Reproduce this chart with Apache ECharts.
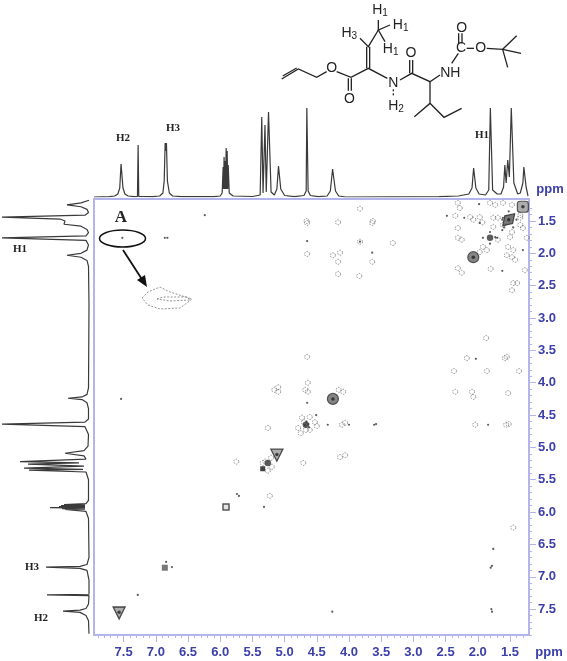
<!DOCTYPE html>
<html>
<head>
<meta charset="utf-8">
<title>COSY spectrum</title>
<script src="https://cdn.jsdelivr.net/npm/echarts@6/dist/echarts.min.js"></script>
<style>
  html, body { margin: 0; padding: 0; background: #fff; }
  #chart { width: 567px; height: 661px; }
</style>
</head>
<body>
<div id="chart"></div>
<script>
// 1D projection on top, [ppm, intensity]
var topSpectrum = [
  [7.96,0],[7.72,0.3],[7.64,1],[7.59,3],[7.56,9],[7.54,33],[7.53,33],[7.51,9],[7.48,3],[7.43,1],[7.34,0.3],
  [7.285,0.5],[7.275,52],[7.265,0.5],[7.05,0.3],[6.94,1],[6.89,4],[6.87,16],[6.855,54],[6.845,46],[6.835,54],[6.82,16],[6.79,4],[6.74,1],[6.6,0.3],
  [6.1,0.3],[6.0,1],[5.97,4],[5.955,30],[5.948,8],[5.94,40],[5.932,8],[5.924,36],[5.916,8],[5.908,49],[5.9,8],[5.892,46],[5.884,8],[5.876,32],[5.86,4],[5.8,1],
  [5.5,0.5],[5.38,2],[5.355,80],[5.335,4],[5.305,72],[5.285,5],[5.25,85],[5.235,85],[5.21,5],[5.16,2],[5.12,8],[5.095,31],[5.085,31],[5.06,8],[5.0,1.5],[4.85,0.3],
  [4.7,1.5],[4.665,6],[4.655,89],[4.645,89],[4.635,6],[4.6,1.5],[4.48,0.3],[4.34,1],[4.29,6],[4.255,28],[4.245,28],[4.21,6],[4.16,1],[4.05,0],
  [2.6,0.3],[2.3,1],[2.14,3],[2.09,9],[2.065,29],[2.055,29],[2.03,9],[1.98,3],[1.88,2],[1.83,7],[1.805,89],[1.795,89],[1.77,7],[1.7,3],[1.64,3],
  [1.6,10],[1.58,32],[1.56,14],[1.535,37],[1.51,20],[1.48,89],[1.46,89],[1.44,14],[1.38,3],[1.34,4],[1.3,14],[1.285,30],[1.275,30],[1.25,10],[1.22,1]
];

// 1D projection on the left, [intensity, ppm]
var leftSpectrum = [
  [0,1.18],[2,1.2],[8,1.22],[22,1.25],[8,1.28],[2,1.32],[0.5,1.37],
  [4,1.41],[87,1.44],[87,1.445],[29,1.47],[24,1.5],[25,1.55],[8,1.58],[2,1.63],[0.5,1.68],
  [3,1.73],[87,1.76],[87,1.765],[3,1.8],[0.5,1.87],[2,1.95],[8,2.0],[22,2.03],[8,2.06],[2,2.11],[0.5,2.2],[0,2.8],
  [0.5,4.08],[2,4.18],[7,4.22],[21,4.24],[7,4.26],[2,4.31],[0.5,4.4],[0.5,4.56],[4,4.61],[87,4.64],[87,4.65],[4,4.68],[0.5,4.8],
  [1,4.98],[5,5.05],[24,5.09],[5,5.13],[3,5.18],[69,5.22],[10,5.24],[61,5.26],[5,5.29],[65,5.32],[6,5.34],[60,5.35],[3,5.38],[0.5,5.5],
  [0.5,5.82],[3,5.87],[25,5.885],[4,5.893],[28,5.9],[4,5.908],[30,5.915],[4,5.923],[39,5.93],[4,5.938],[27,5.945],[4,5.953],[24,5.96],[3,5.99],[0.5,6.1],[0,6.7],
  [2,6.81],[9,6.84],[43,6.85],[43,6.855],[9,6.87],[2,6.9],[0,7.05],[0,7.27],[42,7.28],[0,7.29],[0.5,7.42],[3,7.49],[9,7.515],[26,7.53],[26,7.535],[9,7.55],[3,7.6],[0.5,7.68],[0,7.88]
];

// off diagonal contours, [f2, f1]
var weakContours = [
  [3.83,1.31],[4.65,1.53],[4.66,1.5],[4.17,1.52],[3.64,1.53],[3.63,1.5],[3.83,1.82],[3.32,1.84],[4.65,2.01],[4.25,2.03],[4.14,1.99],[4.17,2.13],[3.64,2.13],[4.17,2.32],[3.84,2.35],
  [1.87,3.31],[2.17,3.62],[1.58,3.62],[1.55,3.6],[2.37,3.82],[1.86,3.82],[1.36,3.82],[2.35,4.14],[2.09,4.14],[2.07,4.22],[1.53,4.16],[2.04,4.65],[1.56,4.65],[1.52,4.64],
  [2.31,1.22],[2.28,1.3],[1.81,1.22],[1.73,1.25],[1.61,1.22],[1.47,1.25],[2.35,1.42],[2.12,1.44],[2.07,1.48],[1.97,1.44],[1.93,1.52],[1.76,1.45],[1.69,1.45],
  [2.31,1.61],[2.31,1.76],[2.25,1.79],[1.5,1.75],[1.47,1.67],[1.34,1.45],[1.3,1.61],[1.24,1.76],[1.34,1.41],[1.53,1.9],[1.45,1.95],[1.47,2.06],[1.42,2.1],[1.55,2.03],
  [1.92,1.9],[1.97,1.98],[1.86,1.95],[1.69,1.79],[1.61,1.56],[1.34,1.56],[1.76,1.59],[2.31,2.23],[2.25,2.3],[1.8,2.24],[1.27,2.26],[1.45,2.46],[1.47,2.57],[1.39,2.46],
  [4.65,3.6],[5.16,4.11],[5.1,4.07],[5.1,4.14],[4.68,4.11],[4.64,4.0],[4.64,4.14],[4.16,4.11],[4.09,4.14],[5.26,4.7],[5.75,5.22],[4.71,5.24],[4.14,5.15],[4.06,5.12],[4.11,4.65],[4.06,4.62],
  [5.23,5.75],[4.73,4.54],[4.79,4.7],[4.75,4.78],[4.61,4.53],[4.53,4.61],[4.5,4.67],[4.7,4.61],[4.61,4.73],[4.67,4.73],
  [5.3,5.22],[5.2,5.3],[5.26,5.36],[5.21,5.16],[5.34,5.24],[1.45,6.24]
];

// tiny dark dots
var contourSpecks = [
  [4.65,1.81],[3.83,1.82],[3.64,1.99],[2.03,3.63],[1.84,4.65],[1.76,6.57],[1.8,6.86],[1.78,6.83],[1.78,7.54],[1.79,7.5],
  [1.98,1.24],[2.48,1.42],[2.21,1.45],[1.61,1.45],[1.97,1.53],[1.81,1.67],[1.73,1.75],[1.62,1.64],[1.3,1.95],[1.62,2.27],
  [1.92,1.76],[1.7,1.76],[1.81,1.85],[1.62,1.48],[1.4,1.48],[1.52,1.35],[1.59,1.6],[1.45,1.6],
  [4.65,4.31],[4.0,4.65],[3.61,4.65],[3.58,4.64],[4.33,4.65],[5.74,5.72],[5.71,5.75],[5.32,5.92],[4.51,4.5],[4.68,4.66],[4.63,4.64],[4.66,4.6],[4.62,4.69],
  [7.28,7.28],[6.84,6.77],[6.75,6.85],[6.24,1.41],[6.86,1.76],[6.82,1.76],[7.52,1.76],[7.54,4.25],[4.26,7.54]
];

// diagonal peaks, grouped by how they look in the plot
var triangularPeaks = [[7.57,7.56],[5.12,5.12]];
var roundPeaks = [[4.25,4.25],[2.07,2.06]];
var cornerPeak = [[1.3,1.28]];
var elongatedPeak = [[1.52,1.48]];
var darkPeaks = [[5.26,5.24],[4.67,4.65],[1.81,1.76]];
var greySquarePeaks = [[6.86,6.86]];
var openSquarePeaks = [[5.91,5.92]];
var solidSquarePeaks = [[5.34,5.33]];
var peakCores = [[7.57,7.55],[5.12,5.11],[4.25,4.25],[2.07,2.06],[1.3,1.28],[1.52,1.48]];

var ppmTicks = [1.5,2,2.5,3,3.5,4,4.5,5,5.5,6,6.5,7,7.5];
var minorTicks = [1.3,1.4,1.6,1.7,1.8,1.9,2.1,2.2,2.3,2.4,2.6,2.7,2.8,2.9,3.1,3.2,3.3,3.4,3.6,3.7,3.8,3.9,4.1,4.2,4.3,4.4,4.6,4.7,4.8,4.9,
  5.1,5.2,5.3,5.4,5.6,5.7,5.8,5.9,6.1,6.2,6.3,6.4,6.6,6.7,6.8,6.9,7.1,7.2,7.3,7.4,7.6,7.7,7.8,7.9];
var f2Range = [1.205,7.96];
var f1Range = [1.16,7.9];

var axisBlue = '#3c40a8';
var frameBlue = '#b3b4ea';

function fmtPpm(v) { return v.toFixed(1); }

function mainAxis(extent, pos, margin) {
  return {
    type: 'value', gridIndex: 0, position: pos, inverse: true,
    min: extent[0], max: extent[1], splitLine: { show: false },
    axisLine: { show: true, onZero: false, lineStyle: { color: frameBlue, width: 1.5 } },
    axisTick: { show: true, length: 7, lineStyle: { color: frameBlue, width: 1 }, customValues: ppmTicks },
    axisLabel: { show: true, margin: margin, color: axisBlue, fontFamily: 'Liberation Sans', fontWeight: 'bold', fontSize: 13,
      formatter: fmtPpm, customValues: ppmTicks }
  };
}

// second axis on the same grid just for the 0.1 ppm ticks
function minorAxis(extent, pos) {
  return {
    type: 'value', gridIndex: 0, position: pos, inverse: true,
    min: extent[0], max: extent[1], splitLine: { show: false },
    axisLine: { show: false, onZero: false },
    axisTick: { show: true, length: 3, lineStyle: { color: frameBlue, width: 1 }, customValues: minorTicks },
    axisLabel: { show: false }
  };
}

function hiddenAxis(extra) {
  return Object.assign({ type: 'value', show: false, splitLine: { show: false } }, extra);
}

function specSeries(data, xi, yi) {
  return { type: 'line', xAxisIndex: xi, yAxisIndex: yi, data: data, showSymbol: false, symbol: 'none', silent: true,
    lineStyle: { color: '#3a3a3a', width: 1.2 }, z: 3 };
}

function contourSeries(data, opt) {
  return Object.assign({ type: 'scatter', xAxisIndex: 0, yAxisIndex: 0, data: data, silent: true }, opt);
}

// molecule was measured on a 3x zoom, so everything goes through these
function mx(x) { return 270 + x / 3; }
function my(y) { return y / 3; }

function bond(pts, dash) {
  return { type: 'polyline', silent: true,
    shape: { points: pts.map(function (p) { return [mx(p[0]), my(p[1])]; }) },
    style: { stroke: '#222', lineWidth: 1.3, fill: null, lineDash: dash || null } };
}

function atom(txt, x, y) {
  return { type: 'text', silent: true, x: mx(x), y: my(y),
    style: { text: txt, fill: '#222', font: '14px "Liberation Sans"', align: 'center', verticalAlign: 'middle',
      rich: { s: { fontSize: 10, fontFamily: 'Liberation Sans', fill: '#222', padding: [6, 0, 0, 0] } } } };
}

function note(txt, x, y, size) {
  return { type: 'text', silent: true, x: x, y: y,
    style: { text: txt, fill: '#222', font: 'bold ' + (size || 11) + 'px "Liberation Serif"', align: 'center', verticalAlign: 'middle' } };
}

function ppmText(x, y) {
  return { type: 'text', silent: true, x: x, y: y,
    style: { text: 'ppm', fill: axisBlue, font: 'bold 13px "Liberation Sans"', align: 'center', verticalAlign: 'middle' } };
}

var molecule = [
  bond([[35,237],[85,207],[140,232],[170,215]]), bond([[38,228],[80,204]]),
  bond([[200,215],[243,232],[295,205],[352,235]]),
  bond([[235,235],[235,272]]), bond([[244,235],[244,272]]),
  bond([[290,205],[290,140]]), bond([[299,205],[299,140]]),
  bond([[270,115],[295,140],[325,90]]),
  bond([[325,60],[325,90],[360,75]]), bond([[325,90],[345,125]]),
  bond([[370,268],[370,287]], [2, 2]),
  bond([[390,240],[425,220],[480,245],[510,225]]),
  bond([[419,220],[419,180]]), bond([[428,220],[428,180]]),
  bond([[545,190],[565,160]]), bond([[566,130],[566,100]]), bond([[576,130],[576,100]]),
  bond([[590,145],[612,145]]),
  bond([[650,145],[698,148],[740,107]]), bond([[698,148],[753,160]]), bond([[698,148],[713,202]]),
  bond([[480,245],[480,310],[433,350]]), bond([[480,310],[522,352],[575,325]]),
  atom('O', 185, 205), atom('O', 238, 297), atom('N', 370, 250), atom('H{s|2}', 378, 318),
  atom('O', 423, 158), atom('NH', 541, 218), atom('C', 573, 145), atom('O', 575, 85), atom('O', 632, 145),
  atom('H{s|3}', 238, 100), atom('H{s|1}', 330, 30), atom('H{s|1}', 392, 75), atom('H{s|1}', 362, 147)
];

var annotations = [
  note('H2', 123, 138), note('H3', 173, 128), note('H1', 482, 135),
  note('H1', 20, 249), note('H3', 32, 567), note('H2', 41, 618),
  note('A', 121, 218, 17),
  { type: 'ellipse', silent: true, shape: { cx: 122.5, cy: 238.5, rx: 23, ry: 8.5 }, style: { stroke: '#111', lineWidth: 1.5, fill: null } },
  { type: 'line', silent: true, shape: { x1: 123, y1: 250, x2: 145, y2: 284 }, style: { stroke: '#111', lineWidth: 1.8 } },
  { type: 'polygon', silent: true, shape: { points: [[147,287],[137,280],[145,275]] }, style: { fill: '#111' } },
  { type: 'polygon', silent: true, shape: { points: [[142,298],[148,292],[160,287],[170,292],[192,299],[187,303],[180,308],[160,309],[148,305]] },
    style: { stroke: '#777', lineWidth: 0.8, lineDash: [2, 1.5], fill: null } },
  { type: 'polygon', silent: true, shape: { points: [[157,299],[163,297],[187,297],[190,300],[170,301]] },
    style: { stroke: '#777', lineWidth: 0.8, lineDash: [2, 1.5], fill: null } },
  ppmText(550, 189), ppmText(549, 652)
];

var chart = echarts.init(document.getElementById('chart'), null, { renderer: 'canvas' });

chart.setOption({
  animation: false,
  backgroundColor: '#fff',
  grid: [
    { left: 94, top: 199, width: 435, height: 436, show: true, borderColor: frameBlue, borderWidth: 2, backgroundColor: 'transparent' },
    { left: 94, top: 100, width: 435, height: 97 },
    { left: 0, top: 199, width: 89, height: 436 }
  ],
  xAxis: [
    mainAxis(f2Range, 'bottom', 11),
    hiddenAxis({ gridIndex: 1, inverse: true, min: f2Range[0], max: f2Range[1] }),
    hiddenAxis({ gridIndex: 2, inverse: true, min: 0, max: 89 }),
    minorAxis(f2Range, 'bottom')
  ],
  yAxis: [
    mainAxis(f1Range, 'right', 9),
    hiddenAxis({ gridIndex: 1, min: 0, max: 97 }),
    hiddenAxis({ gridIndex: 2, inverse: true, min: f1Range[0], max: f1Range[1] }),
    minorAxis(f1Range, 'right')
  ],
  series: [
    specSeries(topSpectrum, 1, 1),
    specSeries(leftSpectrum, 2, 2),
    contourSeries(weakContours, { symbol: 'circle', symbolSize: 5,
      itemStyle: { color: 'transparent', borderColor: '#555', borderWidth: 0.8, borderType: [1.5, 1.2] } }),
    contourSeries(contourSpecks, { symbol: 'circle', symbolSize: 2.2, itemStyle: { color: '#333' } }),
    contourSeries(triangularPeaks, { symbol: 'triangle', symbolRotate: 180, symbolSize: 12,
      itemStyle: { color: '#999', borderColor: '#222', borderWidth: 1.3 } }),
    contourSeries(roundPeaks, { symbol: 'circle', symbolSize: 11,
      itemStyle: { color: '#666', borderColor: '#333', borderWidth: 1.2 } }),
    contourSeries(cornerPeak, { symbol: 'roundRect', symbolSize: 11,
      itemStyle: { color: '#999', borderColor: '#333', borderWidth: 1.2 } }),
    contourSeries(elongatedPeak, { symbol: 'diamond', symbolRotate: -45, symbolSize: [11, 17],
      itemStyle: { color: '#555', borderColor: '#222', borderWidth: 1.2 } }),
    contourSeries(darkPeaks, { symbol: 'circle', symbolSize: 6.5, itemStyle: { color: '#333' } }),
    contourSeries(greySquarePeaks, { symbol: 'rect', symbolSize: 6, itemStyle: { color: '#555' } }),
    contourSeries(openSquarePeaks, { symbol: 'rect', symbolSize: 6,
      itemStyle: { color: '#ddd', borderColor: '#333', borderWidth: 1.5 } }),
    contourSeries(solidSquarePeaks, { symbol: 'rect', symbolSize: 5, itemStyle: { color: '#111' } }),
    contourSeries(peakCores, { symbol: 'circle', symbolSize: 3.5, itemStyle: { color: '#222' }, z: 4 })
  ],
  graphic: { elements: molecule.concat(annotations) }
});
</script>
</body>
</html>
